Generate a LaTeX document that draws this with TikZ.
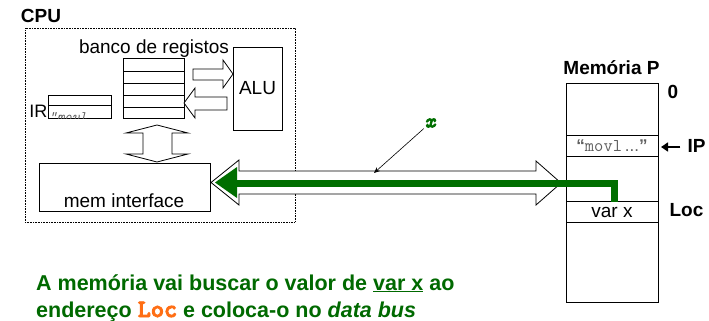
\documentclass[tikz,border=0pt]{standalone}
\usepackage{fontspec}
\setmainfont{Liberation Sans}
\usetikzlibrary{arrows.meta}
\newcommand\heavytt[1]{\special{pdf:literal direct 2 Tr 0.9 w}#1\special{pdf:literal direct 0 Tr}}
\definecolor{busgreen}{RGB}{0,110,0}
\definecolor{txtgreen}{RGB}{0,105,0}
\definecolor{locorange}{RGB}{255,110,20}
\definecolor{codegray}{RGB}{95,95,95}
\begin{document}
\begin{tikzpicture}[x=1pt,y=-1pt,
  box/.style={draw, inner sep=0pt, line width=0.8pt},
  lbl/.style={font=\fontsize{19}{22}\selectfont, inner sep=0pt},
  blbl/.style={font=\fontsize{19}{22}\selectfont\bfseries, inner sep=0pt},
  blockarrow/.style={draw, fill=white, line width=0.8pt, line join=miter},
  rowline/.style={line width=0.8pt},
  bottomtext/.style={anchor=base west, inner sep=0pt, text=txtgreen, font=\fontsize{21.5}{28}\selectfont\bfseries}]
\useasboundingbox (0,0) rectangle (709,321);

% CPU frame
\node[draw, densely dotted, line width=0.6pt, minimum width=270pt, minimum height=194pt, inner sep=0pt] (cpu) at (160,125) {};
\node[blbl] (cputxt) at (41,16) {CPU};

% register bank
\node[box, minimum width=61pt, minimum height=60pt] (regs) at (153.5,88) {};
\foreach \yy in {71,83,95,107} \draw[rowline] (123,\yy) -- (184,\yy);
\node[lbl] (banco) at (154,49) {banco de registos};

% ALU
\node[box, lbl, minimum width=49pt, minimum height=83pt] (alu) at (257.5,88.5) {ALU};

% block arrows regs <-> ALU
\draw[blockarrow] (193,69) -- (223,69) -- (223,60) -- (233,74) -- (223,88) -- (223,80) -- (193,80) -- cycle;
\draw[blockarrow] (227,97) -- (195,97) -- (195,88) -- (184,103) -- (195,118) -- (195,110) -- (227,110) -- cycle;

% IR
\node[box, minimum width=63pt, minimum height=23pt] (ir) at (79.5,106.5) {};
\draw[rowline] (48,105) -- (111,105);
\node[font=\fontsize{18}{20}\selectfont, inner sep=0pt, anchor=east] (irlbl) at (47.5,111) {IR};
\begin{scope}
  \clip (48.5,105) rectangle (110.5,118);
  \node[anchor=base west, inner sep=0pt, text=codegray, font=\ttfamily\itshape\fontsize{14.5}{16}\selectfont] (irtxt) at (49,121.5) {“movl ...”};
\end{scope}

% vertical double block arrow
\draw[blockarrow] (157,125) -- (188,133) -- (172,133) -- (172,154) -- (188,154) -- (157,162) -- (126,154) -- (143,154) -- (143,133) -- (126,133) -- cycle;

% mem interface
\node[box, minimum width=171pt, minimum height=48pt] (memif) at (124.5,187) {};
\node[lbl] (memiftxt) at (124,201) {mem interface};

% memory
\node[box, minimum width=92pt, minimum height=219pt] (mem) at (612,192.5) {};
\foreach \yy in {135,156,201,222} \draw[rowline] (566,\yy) -- (658,\yy);
\node[blbl] (memtitle) at (611.5,68) {Memória P};
\node[blbl] (zero) at (673,92) {0};
\node[lbl, font=\fontsize{17}{18}\selectfont, text=codegray] (movl) at (612,146) {\textbf{“}{\ttfamily\fontsize{18}{18}\selectfont movl}\,...\textbf{”}};
\node[lbl] (varx) at (612,212) {var x};
\node[blbl] (ip) at (696.5,146) {IP};
\coordinate (iptip) at (661,147);
\draw[line width=1.5pt, -{Triangle[length=7pt,width=9pt]}, shorten <=7pt] (ip.west |- iptip) -- (iptip);
\node[blbl] (loc) at (686.5,210) {Loc};

% data bus double block arrow
\draw[blockarrow] (211,182.5) -- (239,160) -- (239,171) -- (536,171) -- (536,161) -- (561,183) -- (536,205) -- (536,194) -- (239,194) -- (239,205) -- cycle;

% green data flow
\fill[busgreen] (215,182.5) -- (237,167) -- (237,198) -- cycle;
\draw[busgreen, line width=7pt, line join=miter] (614,201.5) |- (236,183);

% x label
\node[inner sep=1pt, text=busgreen, font=\ttfamily\itshape\fontsize{20}{20}\selectfont] (xlbl) at (430,123) {\heavytt{x}};
\coordinate (xtip) at (374,173);
\draw[line width=0.6pt, -{Stealth[length=6pt,width=5pt]}] (xlbl) -- (xtip);

% caption
\node[bottomtext] (l1) at (36,290) {A memória vai buscar o valor de \underline{var x} ao};
\node[bottomtext] (l2) at (36,317) {endereço {\color{locorange}\ttfamily\fontsize{25}{28}\selectfont\heavytt{Loc}} e coloca-o no \textit{data bus}};
\end{tikzpicture}
\end{document}
